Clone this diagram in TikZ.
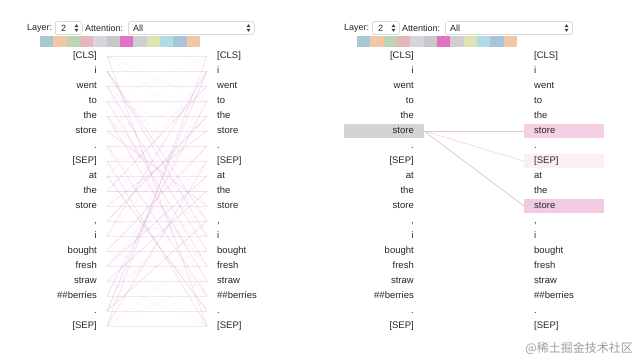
\documentclass[tikz,border=0pt]{standalone}
\usepackage{fontspec}
\setmainfont{Liberation Sans}
\newfontfamily\cjkfont{Noto Sans CJK SC}
\usetikzlibrary{positioning,backgrounds}

\begin{document}
\begin{tikzpicture}[
  x=1pt, y=-1pt,
  font=\fontsize{9.5}{11}\selectfont,
  tokl/.style={text width=60pt, inner xsep=10pt, inner ysep=0pt, minimum height=13pt,
               align=right, text height=7pt, text depth=2pt, text=black!85},
  tokr/.style={tokl, align=left},
  menu/.style={draw=black!22, rounded corners=2.5pt, fill=white, line width=0.5pt,
               minimum height=13pt, inner sep=0pt, anchor=west},
  lbl/.style={font=\fontsize{9}{10}\selectfont, inner sep=0pt, anchor=west, text=black!85},
  attn/.style={line width=0.8pt, draw=attnpink, opacity=#1},
  hit/.style={line width=0.7pt, draw=hitline},
]
\definecolor{attnpink}{HTML}{D88AC6}
\definecolor{hitline}{HTML}{E6C2D5}
\definecolor{selgray}{HTML}{D4D4D4}
\definecolor{hlpinka}{HTML}{F5D0E4}
\definecolor{hlpinkb}{HTML}{FBEEF5}
\definecolor{hlpinkc}{HTML}{F3CBE1}
\definecolor{swa}{HTML}{A8C8D4}
\definecolor{swb}{HTML}{F1C7A5}
\definecolor{swc}{HTML}{BCD5B3}
\definecolor{swd}{HTML}{E6B7B9}
\definecolor{swe}{HTML}{D8D3DC}
\definecolor{swf}{HTML}{C8C8C8}
\definecolor{swg}{HTML}{E173C5}
\definecolor{swh}{HTML}{D0CED4}
\definecolor{swi}{HTML}{DDE3B3}
\definecolor{swj}{HTML}{B1DBE5}
\definecolor{swk}{HTML}{A9C4D8}
\definecolor{swl}{HTML}{F0C8A6}

\useasboundingbox (0,0) rectangle (640,360);

% ---- header controls ----
\node[lbl] (layA) at (27,28) {Layer:};
\node[menu, minimum width=27pt] (layerA) at (55,28) {};
\node[lbl] at ([xshift=6pt]layerA.west) {2};
\node[lbl] (attA) at (85,28) {Attention:};
\node[menu, minimum width=126pt] (attnA) at (128,28) {};
\node[lbl] at ([xshift=5pt]attnA.west) {All};

\node[lbl] (layB) at (344,28) {Layer:};
\node[menu, minimum width=27pt] (layerB) at (372,28) {};
\node[lbl] at ([xshift=6pt]layerB.west) {2};
\node[lbl] (attB) at (402,28) {Attention:};
\node[menu, minimum width=127pt] (attnB) at (445,28) {};
\node[lbl] at ([xshift=5pt]attnB.west) {All};

\foreach \m in {layerA,attnA,layerB,attnB} {
  \fill[black!75] ([xshift=-8pt,yshift=0.8pt]\m.east) -- ++(4,0) -- ++(-2,-3) -- cycle;
  \fill[black!75] ([xshift=-8pt,yshift=-0.8pt]\m.east) -- ++(4,0) -- ++(-2,3) -- cycle;
}

% ---- head colour strips ----
\foreach \ox in {40,357}
  \foreach \c [count=\n from 0] in {swa,swb,swc,swd,swe,swf,swg,swh,swi,swj,swk,swl}
    \fill[\c] ({\ox+13.34*\n},36) rectangle ++(13.4,11);

% ---- left panel: all heads ----
\foreach \w [count=\k from 0] in {{[CLS]},i,went,to,the,store,.,{[SEP]},at,the,store,{,},i,bought,fresh,straw,\#\#berries,.,{[SEP]}} {
  \node[tokl, anchor=east] (la\k) at ({107},{56+15*\k}) {\w};
  \node[tokr, anchor=west] (ra\k) at ({207},{56+15*\k}) {\w};
}

\foreach \k in {0,...,18} {
  \draw[attn=0.22] (la\k.east) -- (ra\k.west);
  \pgfmathtruncatemacro\ja{mod(7*\k+3,19)}
  \pgfmathtruncatemacro\jb{mod(11*\k+5,19)}
  \draw[attn=0.07] (la\k.east) -- (ra\ja.west);
  \draw[attn=0.07] (la\k.east) -- (ra\jb.west);
}
\foreach \i/\j in {0/18,1/12,1/11,18/0,17/1,5/10,10/5,7/18,18/7,2/13,11/4,6/16,16/3,12/1,3/14,13/6,9/2,4/15,8/17,14/8,15/9,17/11}
  \draw[attn=0.25] (la\i.east) -- (ra\j.west);

% ---- right panel: selected token ----
\foreach \w [count=\k from 0] in {{[CLS]},i,went,to,the,store,.,{[SEP]},at,the,store,{,},i,bought,fresh,straw,\#\#berries,.,{[SEP]}} {
  \node[tokl, anchor=east] (lb\k) at ({424},{56+15*\k}) {\w};
  \node[tokr, anchor=west] (rb\k) at ({524},{56+15*\k}) {\w};
}

\begin{scope}[on background layer]
  \fill[white] (0,0) rectangle (640,360);
  \fill[selgray] (lb5.south west) rectangle (lb5.north east);
  \fill[hlpinka] (rb5.south west) rectangle (rb5.north east);
  \fill[hlpinkb] (rb7.south west) rectangle (rb7.north east);
  \fill[hlpinkc] (rb10.south west) rectangle (rb10.north east);
\end{scope}

\draw[hit] (lb5.east) -- (rb5.west);
\draw[hit, opacity=0.6] (lb5.east) -- (rb7.west);
\draw[hit] (lb5.east) -- (rb10.west);

\node[text=black!38, font=\cjkfont\fontsize{12}{14}\selectfont, anchor=east, inner sep=0pt] (mark) at (633,348) {@稀土掘金技术社区};
\end{tikzpicture}
\end{document}
